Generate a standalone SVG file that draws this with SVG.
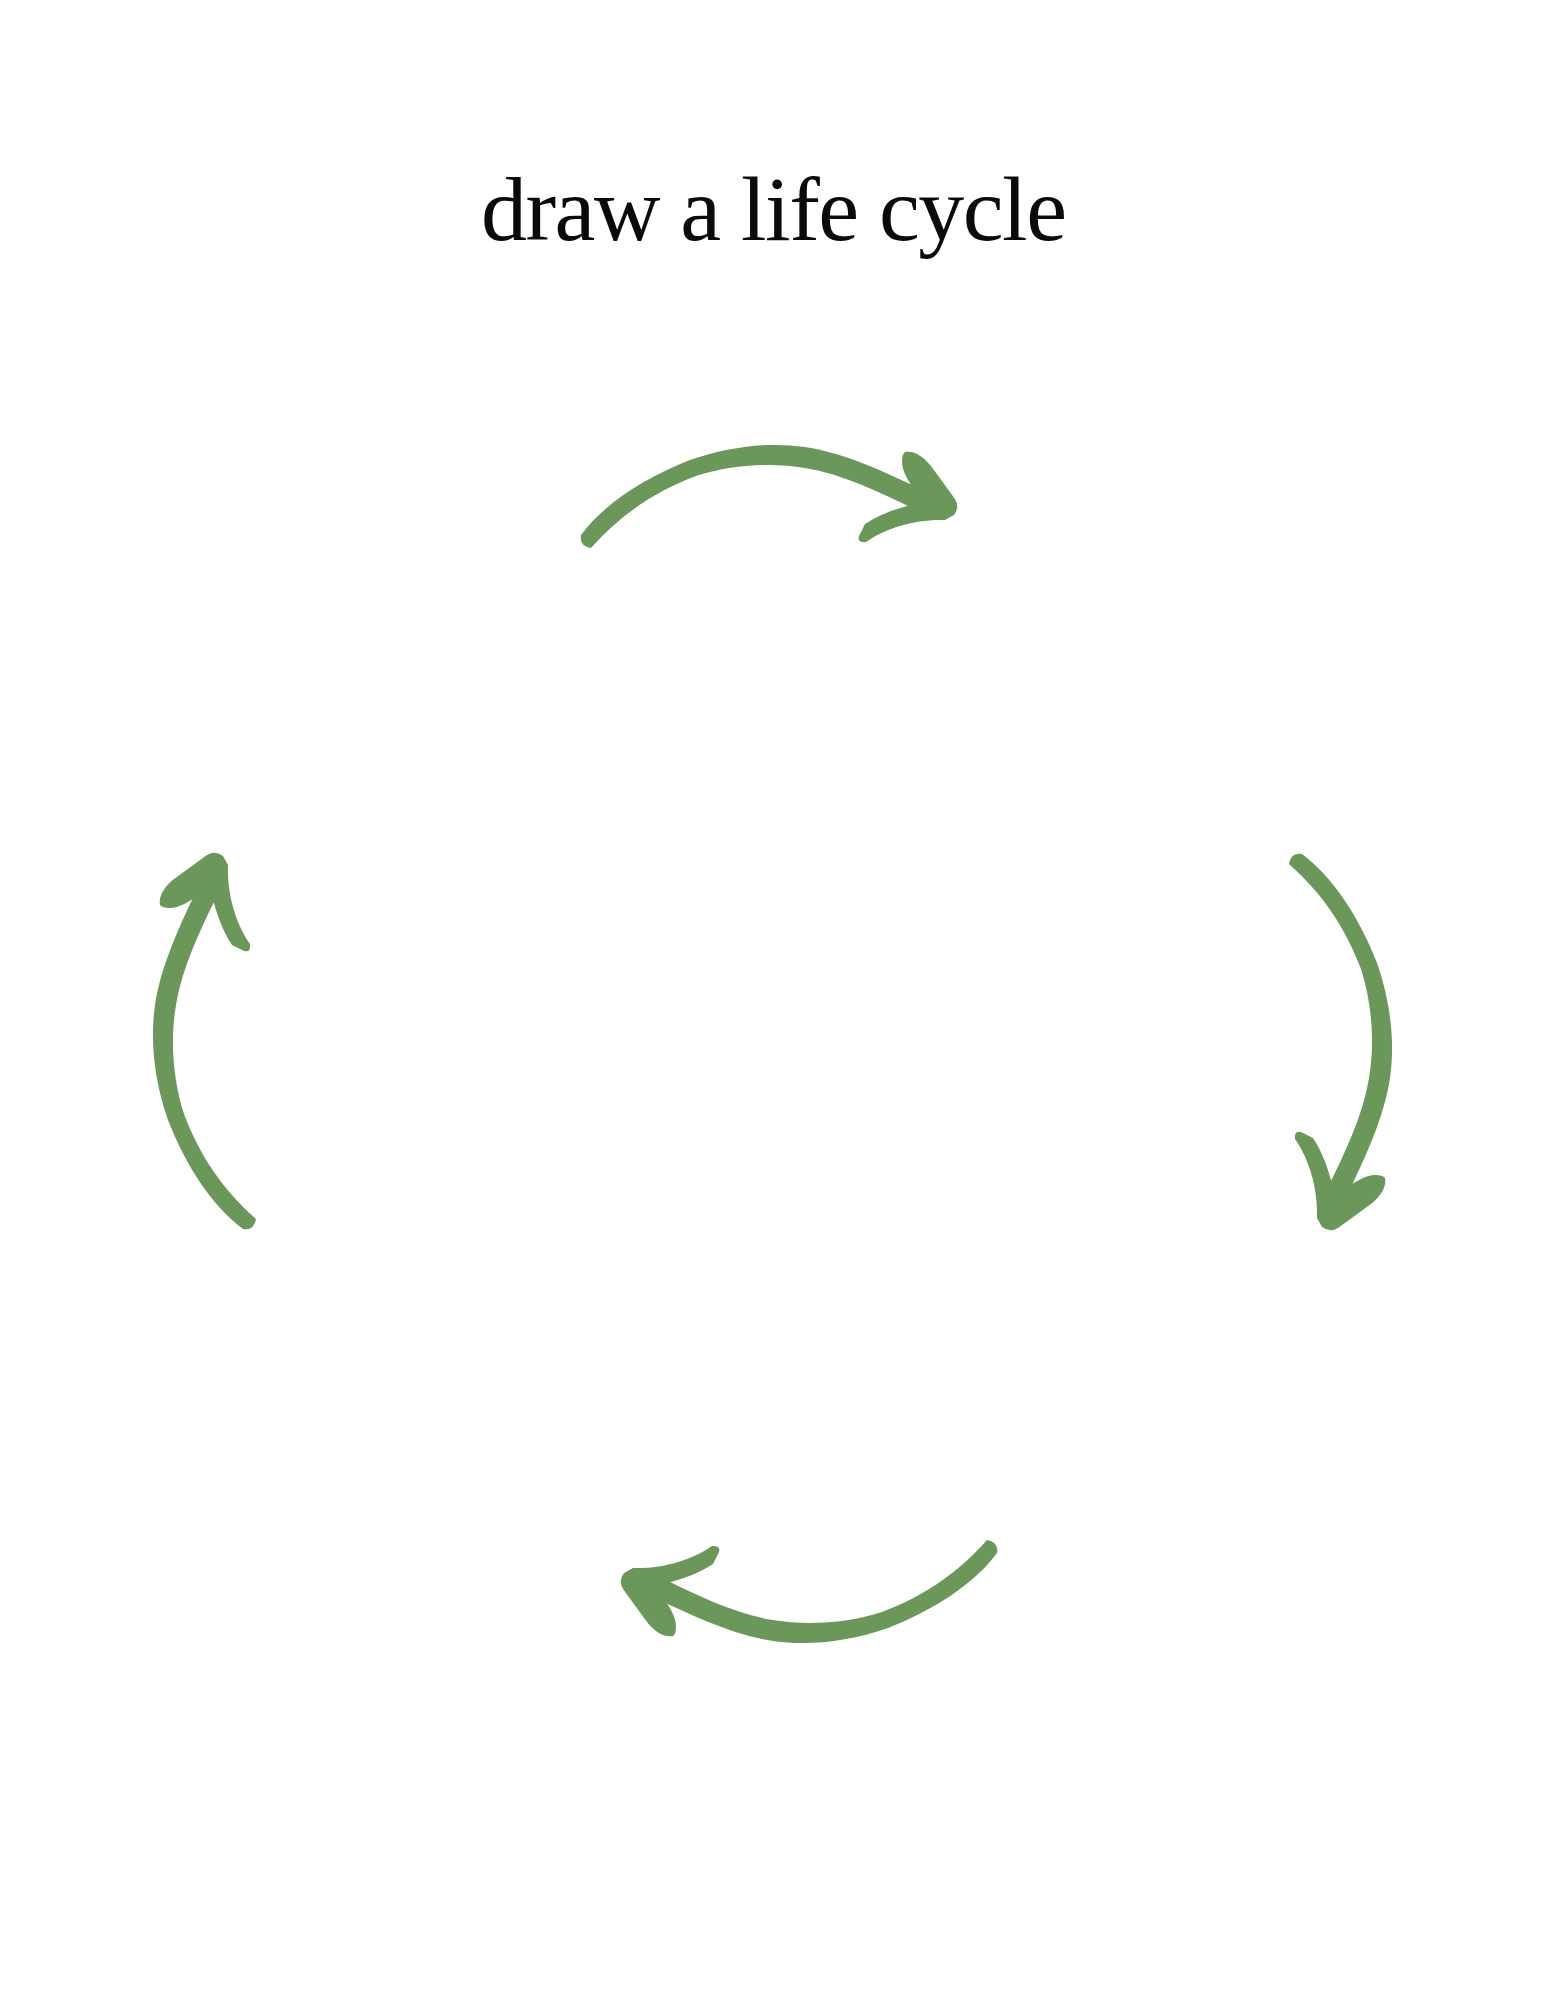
<svg xmlns="http://www.w3.org/2000/svg" xmlns:xlink="http://www.w3.org/1999/xlink" width="1545" height="2000" viewBox="0 0 1545 2000">
  <style>
    .title { font-family: "Liberation Serif", "Times New Roman", serif; font-size: 92px; fill: #0a0a0a; }
    .arrow { fill: #6b975b; }
  </style>
  <defs>
    <g id="arrow-shape">
      <path class="arrow" d="M581,535 C604,504 644,478 690,460 C730,446 770,442 805,447 C845,453 885,472 927,492 L916,510 C880,492 842,474 805,468 C770,462 730,465 696,476 C656,491 621,514 591,548 Q579,546 581,535 Z"/>
      <path class="arrow" d="M905,452 C914,450 924,457 931,466 L955,499 Q960,507 954,515 L945,520 C915,519 886,528 866,542 Q857,543 859,536 L865,524 C880,514 898,508 915,504 L920,496 C909,484 902,471 902,462 Q902,454 905,452 Z"/>
    </g>
  </defs>
  <rect width="1545" height="2000" fill="#ffffff"/>
  <g id="title">
    <text class="title" x="774" y="240" text-anchor="middle" textLength="586" lengthAdjust="spacing">draw a life cycle</text>
  </g>
  <g id="connectors">
    <use id="arrow-top" xlink:href="#arrow-shape" href="#arrow-shape"/>
    <use id="arrow-right" xlink:href="#arrow-shape" href="#arrow-shape" transform="rotate(90 782 1055)"/>
    <use id="arrow-bottom" xlink:href="#arrow-shape" href="#arrow-shape" transform="rotate(180 789 1044)"/>
    <use id="arrow-left" xlink:href="#arrow-shape" href="#arrow-shape" transform="rotate(-90 759 1051)"/>
  </g>
</svg>
